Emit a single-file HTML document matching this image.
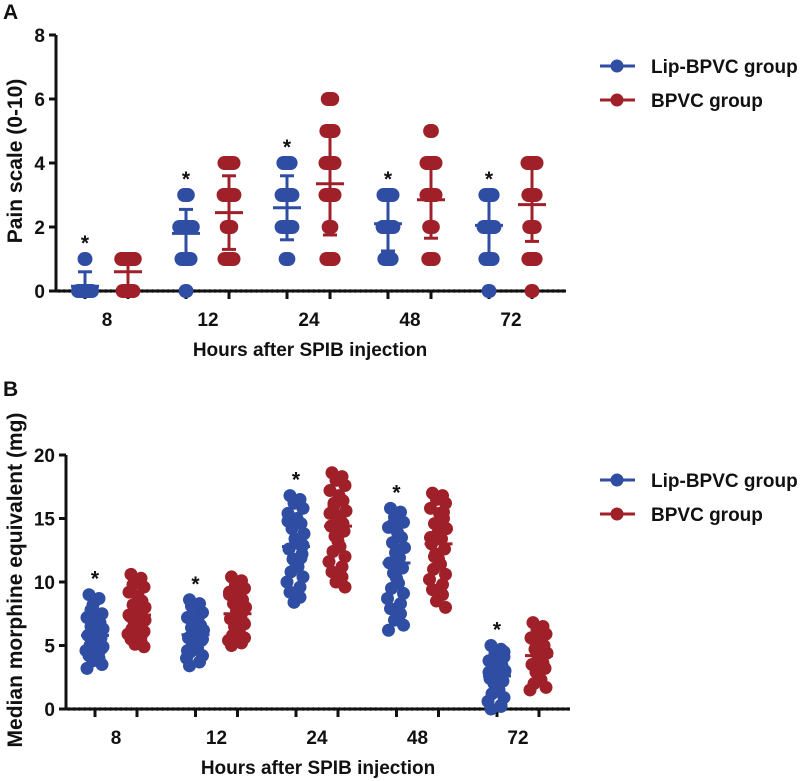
<!DOCTYPE html>
<html><head><meta charset="utf-8"><style>
body{margin:0;background:#fff;}
svg{display:block;font-family:"Liberation Sans",Arial,sans-serif;font-weight:bold;}
</style></head><body>
<svg id="fig" width="800" height="781" viewBox="0 0 800 781" xmlns="http://www.w3.org/2000/svg"></svg>
<script>
// ---------- Panel A data ----------
const categories = ["8","12","24","48","72"];
const painTicks = [0,2,4,6,8];
// value/count pairs per group
const painBlueValues = [[0,1],[0,1,2,3],[1,2,3,4],[1,2,3],[0,1,2,3]];
const painBlueCounts = [[20,1],[1,10,15,4],[3,12,12,8],[8,12,10],[1,8,12,8]];
const painRedValues = [[0,1],[1,2,3,4],[1,2,3,4,5,6],[1,2,3,4,5],[0,1,2,3,4]];
const painRedCounts = [[12,15],[10,5,12,10],[8,3,10,10,8,5],[6,4,10,10,2],[1,8,6,8,10]];
const painBlueMean = [0.15,1.8,2.6,2.1,2.05];
const painBlueSD = [0.45,0.75,1.0,0.85,0.9];
const painRedMean = [0.6,2.45,3.35,2.85,2.7];
const painRedSD = [0.45,1.15,1.6,1.2,1.15];
// ---------- Panel B data ----------
const mmeTicks = [0,5,10,15,20];
const mmeBlue = [
 [9,8.7,8.2,7.5,7.2,7,6.8,6.5,6.3,6.1,6,5.8,5.6,5.5,5.3,5.1,5,4.8,4.6,4.5,4.2,4,3.8,3.5,3.2,6.6,5.9,7.8,4.9,5.4],
 [8.6,8.3,8,7.6,7.2,6.9,6.6,6.4,6.2,6,5.8,5.6,5.4,5.2,5,4.8,4.5,4.2,4,3.7,3.4,7.4,6.7,5.5,4.6,5.9,6.3,8.1],
 [16.8,16.5,16.2,15.8,15.4,15,14.6,14.2,13.8,13.4,13,12.6,12.2,11.8,11.5,11.2,10.8,10.4,10,9.6,9.2,8.8,8.4,12.9,14.8,13.2,11.9],
 [15.8,15.5,15.1,14.7,14.3,13.9,13.5,13.1,12.7,12.3,11.9,11.5,11.1,10.7,10.3,9.9,9.5,9.1,8.7,8.3,7.9,7.5,7,6.6,6.2,12.5,11.2,14.5],
 [5,4.7,4.4,4.1,3.8,3.6,3.4,3.2,3,2.8,2.6,2.4,2.2,2,1.8,1.5,1.2,0.9,0.6,0.3,0,0.2,3.9,4.5,2.9]];
const mmeRed = [
 [10.6,10.3,10,9.6,9.2,8.9,8.5,8.2,8,7.7,7.5,7.3,7.1,6.9,6.7,6.5,6.3,6.1,5.9,5.7,5.5,5.3,5.1,4.9,7.4,8.6,6,9.8,7,6.4],
 [10.4,10.1,9.8,9.5,9.2,8.9,8.6,8.3,8,7.7,7.4,7.1,6.8,6.5,6.2,6,5.8,5.6,5.4,5.2,5,7.5,8.8,6.7,9,5.5],
 [18.6,18.3,18,17.6,17.2,16.8,16.4,16,15.6,15.2,14.8,14.4,14,13.6,13.2,12.8,12.4,12,11.6,11.2,10.8,10.4,10,9.6,15.4,13.8,14.6,16.2],
 [17,16.8,16.5,16.2,15.8,15.4,15,14.6,14.2,13.8,13.4,13,12.6,12.2,11.8,11.4,11,10.6,10.2,9.8,9.4,9,8.5,8,13.5,14.4,15.5,12],
 [6.8,6.5,6.2,5.9,5.6,5.3,5,4.7,4.4,4.1,3.8,3.5,3.2,2.9,2.6,2.3,2,1.7,1.5,4.9,5.5,3.6]];
const mmeBlueMedian = [5.8,5.85,12.8,11.5,2.6];
const mmeRedMedian = [7.4,7.5,14.4,13.0,4.2];

const BLUE="#2e4da3", RED="#a0202a";
const svg=document.getElementById('fig');
const NS="http://www.w3.org/2000/svg";
function mk(tag,attrs,parent){const e=document.createElementNS(NS,tag);for(const k in attrs)e.setAttribute(k,attrs[k]);(parent||svg).appendChild(e);return e;}
function txt(s,attrs,parent){const e=mk('text',attrs,parent);e.textContent=s;return e;}

function axes(g,cfg){
  const {x0,x1,yScale,ticks,groupX,labelX,yZero} = cfg;
  const ax=mk('line',{x1:x0,y1:yScale(ticks[ticks.length-1]),x2:x0,y2:yZero,stroke:'#111','stroke-width':3},g);
  
  ticks.forEach(t=>{
    const y=yScale(t);
    const tk=mk('line',{x1:x0-7,y1:y,x2:x0,y2:y,stroke:'#111','stroke-width':3},g);
    
    const tl=txt(String(t),{x:x0-11,y:y+7,'text-anchor':'end','font-size':19,fill:'#111'},g);
    
  });
  const xl=mk('line',{x1:x0,y1:yZero,x2:x1,y2:yZero,stroke:'#111','stroke-width':3},g);
  
  for(let x=x0+3;x<=x1;x+=5.2){const d=mk('circle',{cx:x,cy:yZero,r:1.8,fill:'#111'},g);}
  groupX.forEach(x=>{const tk=mk('line',{x1:x,y1:yZero,x2:x,y2:yZero+8,stroke:'#111','stroke-width':3},g);});
  categories.forEach((c,i)=>{const t=txt(c,{x:labelX(i),y:yZero+35,'text-anchor':'middle','font-size':19,fill:'#111'},g);});
}
function legend(g,y1,y2){
  [[y1,BLUE,'Lip-BPVC group'],[y2,RED,'BPVC group']].forEach(([y,c,l])=>{
    const e=mk('g',{},g);
    mk('line',{x1:600,y1:y,x2:635,y2:y,stroke:c,'stroke-width':3},e);
    mk('circle',{cx:617,cy:y,r:6.5,fill:c},e);
    txt(l,{x:651,y:y+7,'font-size':19,fill:'#111'},e);
  });
}

// ===== Panel A =====
const gA=mk('g',{});
const A_y0=291, A_ppu=32;
const yA=v=>A_y0-v*A_ppu;
const xA=(i,s)=>107+i*101+(s?21:-22);
const pl=txt('A',{x:3,y:19,'font-size':21,fill:'#111'},gA);
axes(gA,{x0:56,x1:566,yScale:yA,ticks:painTicks,groupX:[0,1,2,3,4].flatMap(i=>[xA(i,0),xA(i,1)]),labelX:i=>xA(i,0)+22,yZero:A_y0});
function painGroup(i,s,vals,cnts,mean,sd,col){
  const x=xA(i,s);
  vals[i].forEach((v,j)=>{
    const hw=Math.min(14,7+cnts[i][j]*0.45);
    const r=mk('rect',{x:x-hw,y:yA(v)-7,width:hw*2,height:14,rx:7,fill:col},gA);
    
  });
  const lo=Math.max(0,mean[i]-sd[i]),hi=mean[i]+sd[i];
  const e=mk('g',{stroke:col,'stroke-width':3},gA);
  mk('line',{x1:x,y1:yA(lo),x2:x,y2:yA(hi)},e);
  mk('line',{x1:x-7,y1:yA(hi),x2:x+7,y2:yA(hi)},e);
  mk('line',{x1:x-7,y1:yA(lo),x2:x+7,y2:yA(lo)},e);
  mk('line',{x1:x-14,y1:yA(mean[i]),x2:x+14,y2:yA(mean[i])},e);
  if(!s){const mx=Math.max(...vals[i]);const a=txt('*',{x:x,y:yA(mx)-9,'text-anchor':'middle','font-size':21,fill:'#111'},gA);}
}
categories.forEach((c,i)=>{painGroup(i,0,painBlueValues,painBlueCounts,painBlueMean,painBlueSD,BLUE);painGroup(i,1,painRedValues,painRedCounts,painRedMean,painRedSD,RED);});
const yta=txt('Pain scale (0-10)',{x:0,y:0,'text-anchor':'middle','font-size':21,fill:'#111',transform:'translate(22,161) rotate(-90)'},gA);
const xta=txt('Hours after SPIB injection',{x:310,y:356,'text-anchor':'middle','font-size':19,fill:'#111'},gA);
legend(gA,66,100);

// ===== Panel B =====
const gB=mk('g',{});
const B_y0=709, B_ppu=12.7;
const yB=v=>B_y0-v*B_ppu;
const xB=(i,s)=>116+i*100.5+(s?21:-21);
const plb=txt('B',{x:3,y:396,'font-size':21,fill:'#111'},gB);
axes(gB,{x0:66,x1:570,yScale:yB,ticks:mmeTicks,groupX:[0,1,2,3,4].flatMap(i=>[xB(i,0),xB(i,1)]),labelX:i=>xB(i,0)+21,yZero:B_y0});
const jit=[-6,4,-2,7,-8,1,5,-4,8,-1,3,-7,6,-3,0,2,-5,7,-9,4];
function mmeGroup(i,s,data,med,col){
  const x=xB(i,s);
  data[i].forEach((v,j)=>{
    const c=mk('circle',{cx:x+jit[j%jit.length],cy:yB(v),r:6.5,fill:col},gB);
    
  });
  const m=mk('line',{x1:x-14,y1:yB(med[i]),x2:x+14,y2:yB(med[i]),stroke:col,'stroke-width':3},gB);
  
  if(!s){const mx=Math.max(...data[i]);const a=txt('*',{x:x,y:yB(mx)-9,'text-anchor':'middle','font-size':21,fill:'#111'},gB);}
}
categories.forEach((c,i)=>{mmeGroup(i,0,mmeBlue,mmeBlueMedian,BLUE);mmeGroup(i,1,mmeRed,mmeRedMedian,RED);});
const ytb=txt('Median morphine equivalent (mg)',{x:0,y:0,'text-anchor':'middle','font-size':21,fill:'#111',transform:'translate(22,580) rotate(-90)'},gB);
const xtb=txt('Hours after SPIB injection',{x:318,y:774,'text-anchor':'middle','font-size':19,fill:'#111'},gB);
legend(gB,480,514);
</script>
</body></html>
